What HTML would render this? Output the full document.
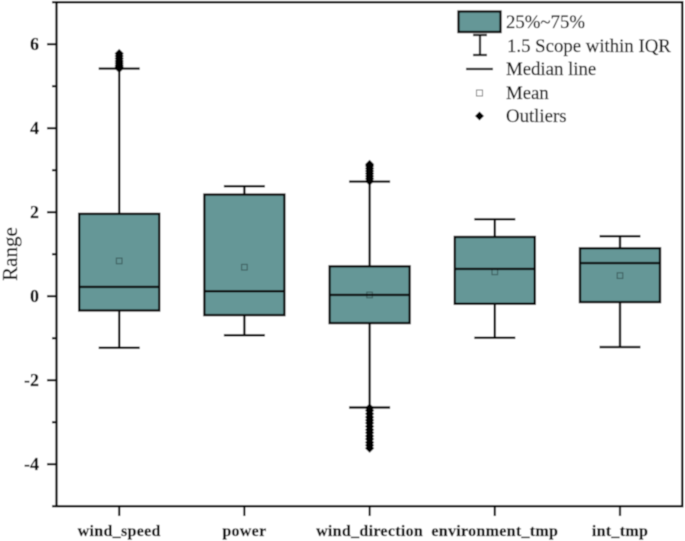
<!DOCTYPE html>
<html>
<head>
<meta charset="utf-8">
<style>
html,body{margin:0;padding:0;background:#fff;width:685px;height:541px;overflow:hidden}
svg{display:block}
text{font-family:"Liberation Serif",serif;fill:#111;stroke:#111;stroke-width:0.25px}
</style>
</head>
<body>
<svg id="chart" width="685" height="541" viewBox="0 0 685 541" xmlns="http://www.w3.org/2000/svg">
<defs><filter id="soft" x="-5%" y="-5%" width="110%" height="110%"><feGaussianBlur stdDeviation="0.4"/></filter></defs>
<g id="root" filter="url(#soft)">
<rect width="685" height="541" fill="#fff"/>
<g id="marks"></g>
<g id="axes"></g>
<text transform="translate(17,254) rotate(-90)" text-anchor="middle" font-size="21">Range</text>
<g>
<rect x="458.5" y="11.5" width="42" height="20.5" fill="#659797" stroke="#111" stroke-width="2.4"/>
<text x="506" y="28" font-size="18.8">25%~75%</text>
<path d="M473 35H487M480 35V55M473 55H487" fill="none" stroke="#111" stroke-width="2.2"/>
<text x="507" y="52" font-size="18.8">1.5 Scope within IQR</text>
<line x1="466" x2="493" y1="69" y2="69" stroke="#111" stroke-width="2.2"/>
<text x="506" y="75" font-size="18.8">Median line</text>
<rect x="476.5" y="90" width="6" height="6" fill="#fff" stroke="#777" stroke-width="1"/>
<text x="506" y="99" font-size="18.8">Mean</text>
<path d="M479.5 111.5L484 116L479.5 120.5L475 116Z" fill="#000"/>
<text x="506" y="122" font-size="18.8">Outliers</text>
</g>
</g>
</svg>
<script>
const categories = ["wind_speed", "power", "wind_direction", "environment_tmp", "int_tmp"];
const whiskerLow = [-1.23, -0.93, -2.65, -0.99, -1.21];
const q1 = [-0.34, -0.45, -0.64, -0.18, -0.14];
const median = [0.22, 0.12, 0.03, 0.65, 0.79];
const q3 = [1.96, 2.42, 0.71, 1.41, 1.14];
const whiskerHigh = [5.42, 2.62, 2.73, 1.83, 1.43];
const mean = [0.84, 0.69, 0.03, 0.58, 0.49];
const outlierSpeed = [5.42, 5.46, 5.5, 5.55, 5.6, 5.66, 5.72, 5.78];
const outlierPower = [];
const outlierDirection = [-3.62, -3.55, -3.48, -3.4, -3.33, -3.25, -3.18, -3.1, -3.02, -2.95, -2.88, -2.8, -2.72, -2.66, 2.74, 2.8, 2.86, 2.92, 2.98, 3.04, 3.1, 3.14];
const outlierEnvironment = [];
const outlierInt = [];
const outliers = [outlierSpeed, outlierPower, outlierDirection, outlierEnvironment, outlierInt];
const yMajorTicks = [-4, -2, 0, 2, 4, 6];
const yMinorTicks = [-5, -3, -1, 1, 3, 5, 7];

const NS = "http://www.w3.org/2000/svg";
const marks = document.getElementById("marks");
const axes = document.getElementById("axes");
const yScale = v => 296.2 - 42 * v;
const xScale = i => 119.2 + 125.2 * i;
const BOX_W = 80;
const CAP_W = 41;

function make(parent, tag, attrs) {
  const el = document.createElementNS(NS, tag);
  for (const k in attrs) el.setAttribute(k, attrs[k]);
  parent.appendChild(el);
  return el;
}

categories.forEach((cat, i) => {
  const cx = xScale(i);
  const group = make(marks, "g", {});
  
  

  const whisker = make(group, "path", {
    d: `M${cx} ${yScale(q3[i])}V${yScale(whiskerHigh[i])}M${cx - CAP_W / 2} ${yScale(whiskerHigh[i])}H${cx + CAP_W / 2}` +
       `M${cx} ${yScale(q1[i])}V${yScale(whiskerLow[i])}M${cx - CAP_W / 2} ${yScale(whiskerLow[i])}H${cx + CAP_W / 2}`,
    fill: "none", stroke: "#111", "stroke-width": 2.4
  });
  
  

  const box = make(group, "rect", {
    x: cx - BOX_W / 2, y: yScale(q3[i]), width: BOX_W, height: yScale(q1[i]) - yScale(q3[i]),
    fill: "#659797", stroke: "#0c0c0c", "stroke-width": 2.4
  });
  
  

  const meanMark = make(group, "rect", {
    x: cx - 2.8, y: yScale(mean[i]) - 2.8, width: 5.6, height: 5.6,
    fill: "none", stroke: "#3f6161", "stroke-width": 1.1
  });
  
  

  const med = make(group, "line", {
    x1: cx - BOX_W / 2, x2: cx + BOX_W / 2, y1: yScale(median[i]), y2: yScale(median[i]),
    stroke: "#0c0c0c", "stroke-width": 2.4
  });
  
  

  outliers[i].forEach(v => {
    const y = yScale(v);
    const d = make(group, "path", {
      d: `M${cx} ${y - 4.6}L${cx + 4.6} ${y}L${cx} ${y + 4.6}L${cx - 4.6} ${y}Z`,
      fill: "#000"
    });
    
    
  });

  const tick = make(axes, "line", { x1: cx, x2: cx, y1: 506, y2: 516, stroke: "#111", "stroke-width": 2.2 });
  
  

  const label = make(axes, "text", { x: cx, y: 536, "text-anchor": "middle", "font-size": 16, "font-weight": "bold", "letter-spacing": "0.3" });
  label.textContent = cat;
  
  
});

yMajorTicks.forEach(v => {
  const y = yScale(v);
  const tick = make(axes, "line", { x1: 47, x2: 56.5, y1: y, y2: y, stroke: "#111", "stroke-width": 2.2 });
  
  
  const label = make(axes, "text", { x: 39, y: y + 6, "text-anchor": "end", "font-size": 18, "font-weight": "bold" });
  label.textContent = String(v);
  
  
});

yMinorTicks.forEach(v => {
  const y = yScale(v);
  const tick = make(axes, "line", { x1: 52, x2: 56.5, y1: y, y2: y, stroke: "#111", "stroke-width": 2.2 });
  
  
});

const frame = make(axes, "rect", { x: 56.5, y: yScale(7), width: 625.8, height: yScale(-5) - yScale(7), fill: "none", stroke: "#111", "stroke-width": 2.4 });


</script>
</body>
</html>
